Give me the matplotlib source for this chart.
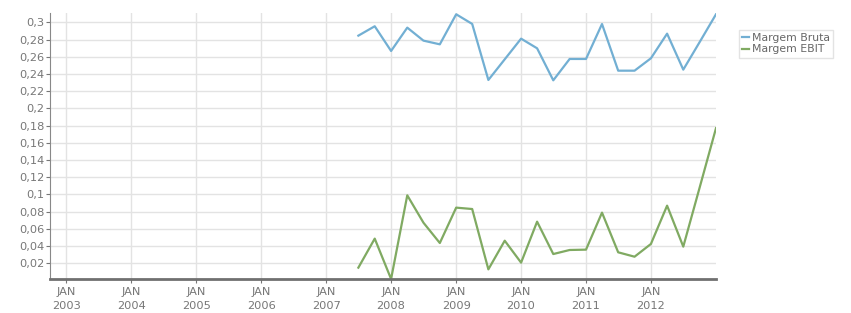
import numpy as np
import pandas as pd
import matplotlib
matplotlib.use("Agg")
import matplotlib.pyplot as plt
from matplotlib.ticker import FuncFormatter

quarters = pd.date_range("2007-07-01", periods=23, freq="QS")
margem_bruta = [0.2845, 0.2954, 0.2667, 0.2938, 0.2787, 0.2744, 0.3093, 0.2981, 0.2330,
                0.2570, 0.2810, 0.2698, 0.2326, 0.2574, 0.2574, 0.2980, 0.2438, 0.2438,
                0.2582, 0.2868, 0.2450, 0.2770, 0.3093]
margem_ebit = [0.0150, 0.0487, 0.0018, 0.0990, 0.0672, 0.0436, 0.0847, 0.0831, 0.0130,
               0.0463, 0.0208, 0.0684, 0.0308, 0.0355, 0.0359, 0.0789, 0.0328, 0.0277,
               0.0425, 0.0870, 0.0394, 0.1080, 0.1770]
years = list(range(2003, 2013))
yticks = [0.02, 0.04, 0.06, 0.08, 0.1, 0.12, 0.14, 0.16, 0.18, 0.2, 0.22, 0.24, 0.26, 0.28, 0.3]

grey = "#777777"
fig = plt.figure(figsize=(8.51, 3.13), dpi=100)
ax = fig.add_axes([50 / 851, 1 - 279 / 313, 666 / 851, 266 / 313])

ax.plot(quarters, margem_bruta, color="#72afd3", lw=1.6, label="Margem Bruta")
ax.plot(quarters, margem_ebit, color="#80aa62", lw=1.6, label="Margem EBIT")

ax.set_xlim(pd.Timestamp("2002-10-01"), pd.Timestamp("2013-01-01"))
ax.set_ylim(min(margem_ebit), 0.3108)
ax.set_xticks([pd.Timestamp(f"{y}-01-01") for y in years])
ax.set_xticklabels([f"JAN\n{y}" for y in years])
ax.set_yticks(yticks)
ax.yaxis.set_major_formatter(FuncFormatter(lambda v, p: f"{v:.2f}".rstrip("0").replace(".", ",")))

ax.grid(True, color="#e3e3e3", lw=1)
ax.set_axisbelow(True)
for s in ["top", "right"]:
    ax.spines[s].set_visible(False)
ax.spines["left"].set_color("#888888")
ax.spines["left"].set_linewidth(0.8)
ax.spines["bottom"].set_color("#707070")
ax.spines["bottom"].set_linewidth(2)
ax.tick_params(axis="y", colors=grey, labelsize=8.2, length=3, width=0.8, pad=1)
ax.tick_params(axis="x", colors=grey, labelsize=8.2, length=3, width=0.8, pad=3)
for t in ax.get_xticklabels():
    t.set_multialignment("center")
    t.set_linespacing(1.45)

leg = fig.legend(loc="upper left", bbox_to_anchor=(739 / 851, 1 - 30 / 313), fontsize=7.8,
                 handlelength=0.6, handletextpad=0.3, borderpad=0.3, labelspacing=0.1,
                 frameon=True, fancybox=False, edgecolor="#dddddd", borderaxespad=0)
for t in leg.get_texts():
    t.set_color("#666666")

fig.savefig("out.png", dpi=100)
